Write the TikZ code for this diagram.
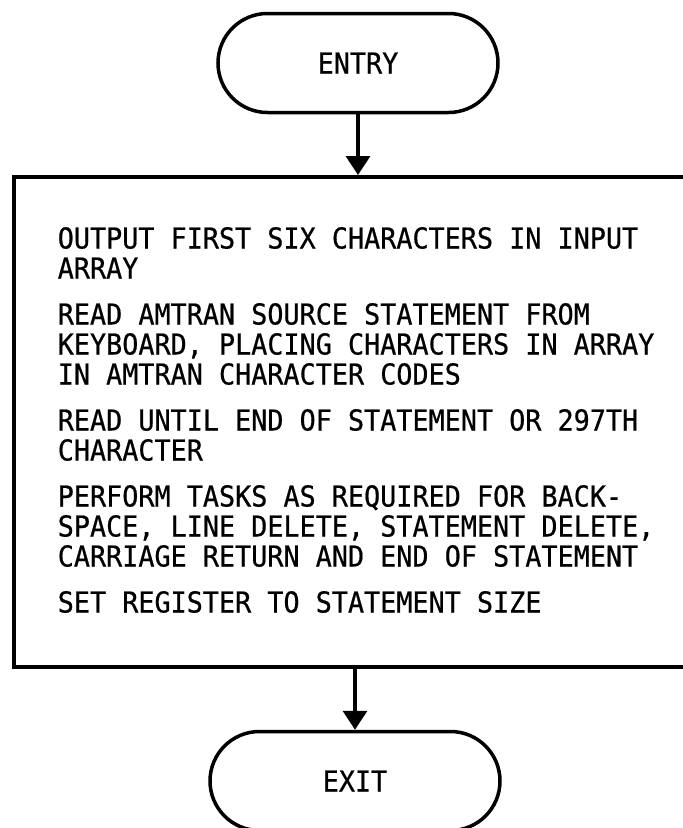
\documentclass[tikz,border=0pt]{standalone}
\usepackage{fontspec}
\newfontfamily\typefont[FakeStretch=0.93,FakeBold=0.6]{DejaVu Sans Mono}
\usetikzlibrary{arrows.meta,shapes.misc}
\begin{document}
\begin{tikzpicture}[x=1pt,y=1pt,
  line width=3.5pt,
  chartfont/.style={font=\typefont\fontsize{28.8}{30}\selectfont},
  terminal/.style={rounded rectangle, draw, minimum height=99pt, inner sep=0pt, chartfont},
  procbox/.style={draw, rectangle, anchor=north west, inner sep=0pt},
  stepline/.style={anchor=base west, inner sep=0pt, chartfont},
  flow/.style={-{Triangle[width=24pt,length=19pt]}, line width=3.5pt}]
\useasboundingbox (0,0) rectangle (683,-828);
\clip (0,0) rectangle (683,-828);
\fill[white] (0,0) rectangle (683,-828);

% terminals
\node[terminal, minimum width=280pt] (entry) at (358,-63) {ENTRY};
\node[terminal, minimum width=290pt] (exit) at (355,-781) {EXIT};

% processing block (its right side runs off the page)
\node[procbox, minimum width=700pt, minimum height=490pt] (proc) at (12,-175) {};

% the steps, one line per node
\node[stepline] (s1a) at (56,-248.5) {OUTPUT FIRST SIX CHARACTERS IN INPUT};
\node[stepline] (s1b) at (56,-278.5) {ARRAY};
\node[stepline] (s2a) at (56,-324.5) {READ AMTRAN SOURCE STATEMENT FROM};
\node[stepline] (s2b) at (56,-354.5) {KEYBOARD, PLACING CHARACTERS IN ARRAY};
\node[stepline] (s2c) at (56,-384.5) {IN AMTRAN CHARACTER CODES};
\node[stepline] (s3a) at (56,-430.5) {READ UNTIL END OF STATEMENT OR 297TH};
\node[stepline] (s3b) at (56,-460.5) {CHARACTER};
\node[stepline] (s4a) at (56,-506.5) {PERFORM TASKS AS REQUIRED FOR BACK-};
\node[stepline] (s4b) at (56,-536.5) {SPACE, LINE DELETE, STATEMENT DELETE,};
\node[stepline] (s4c) at (56,-566.5) {CARRIAGE RETURN AND END OF STATEMENT};
\node[stepline] (s5a) at (56,-612.5) {SET REGISTER TO STATEMENT SIZE};

% flow lines
\draw[flow] (entry.south) -- (entry.south |- proc.north);
\draw[flow] (proc.south -| exit.north) -- (exit.north);
\end{tikzpicture}
\end{document}
